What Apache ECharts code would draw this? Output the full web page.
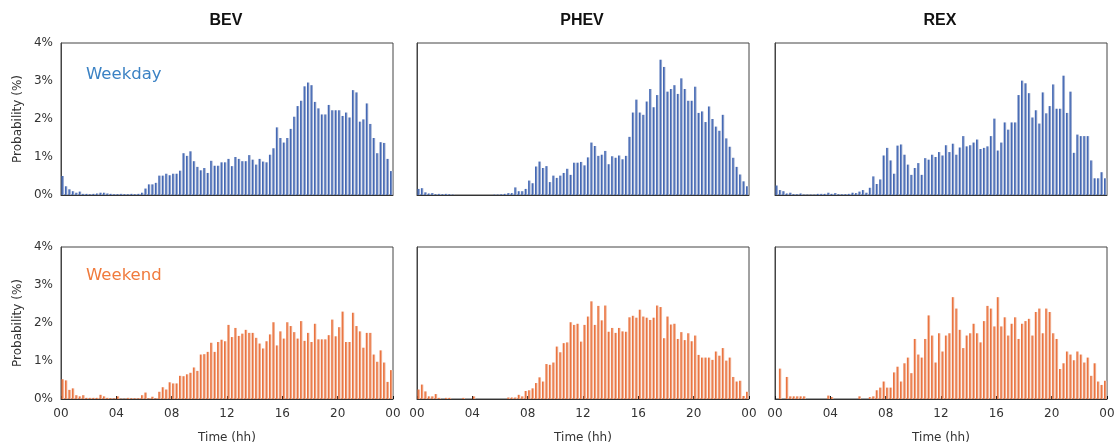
<!DOCTYPE html>
<html>
<head>
<meta charset="utf-8">
<script src="https://cdn.jsdelivr.net/npm/echarts@6/dist/echarts.min.js"></script>
<style>html,body{margin:0;padding:0;background:#fff;}#c{width:1120px;height:446px;}</style>
</head>
<body>
<div id="c"></div>
<script>
// ---- data: charging probability (%) per 15-minute slot, 00:00 → 24:00 (96 slots) ----
const vehicleTypes = ['BEV', 'PHEV', 'REX'];
const dayTypes = ['Weekday', 'Weekend'];
const hourTicks = ['00', '04', '08', '12', '16', '20', '00'];
const yTicks = ['0%', '1%', '2%', '3%', '4%'];

const bevWeekday = [0.50,0.23,0.15,0.10,0.06,0.09,0.03,0.03,0.02,0.03,0.04,0.06,0.06,0.04,0.03,0.02,0.02,0.03,0.02,0.02,0.03,0.02,0.03,0.06,
  0.17,0.28,0.28,0.32,0.51,0.51,0.56,0.52,0.56,0.56,0.64,1.10,1.03,1.15,0.89,0.74,0.65,0.71,0.58,0.90,0.77,0.77,0.86,0.86,
  0.95,0.76,1.00,0.95,0.89,0.89,1.05,0.93,0.80,0.95,0.88,0.86,1.06,1.23,1.78,1.50,1.38,1.50,1.74,2.06,2.34,2.48,2.86,2.96,
  2.89,2.45,2.28,2.12,2.12,2.37,2.23,2.23,2.23,2.08,2.17,2.04,2.76,2.70,1.93,1.99,2.41,1.87,1.50,1.10,1.39,1.37,0.95,0.63];
const phevWeekday = [0.16,0.18,0.07,0.04,0.05,0.02,0.03,0.02,0.03,0.02,0.01,0,0,0,0,0,0,0,0,0,0,0,0.01,0.01,
  0.02,0.03,0.05,0.05,0.20,0.10,0.10,0.16,0.38,0.31,0.75,0.88,0.71,0.76,0.34,0.51,0.45,0.51,0.58,0.69,0.53,0.85,0.85,0.87,
  0.78,0.99,1.38,1.29,1.03,1.06,1.16,0.81,1.02,0.98,1.04,0.94,1.03,1.53,2.17,2.51,2.17,2.11,2.46,2.79,2.31,2.63,3.56,3.37,
  2.72,2.79,2.89,2.66,3.07,2.79,2.48,2.48,2.85,2.16,2.20,1.92,2.33,2.00,1.80,1.69,2.11,1.49,1.27,0.98,0.74,0.54,0.36,0.23];
const rexWeekday = [0.25,0.13,0.10,0.04,0.06,0.02,0.02,0.04,0.01,0.01,0.01,0.01,0.03,0.03,0.03,0.06,0.03,0.05,0.02,0.02,0.02,0.03,0.06,0.05,
  0.09,0.13,0.06,0.19,0.49,0.29,0.41,1.04,1.24,0.91,0.56,1.30,1.33,1.06,0.80,0.53,0.71,0.84,0.53,0.97,0.93,1.06,1.00,1.13,
  1.04,1.31,1.13,1.35,1.06,1.25,1.55,1.28,1.31,1.38,1.46,1.21,1.24,1.28,1.55,2.01,1.17,1.38,1.91,1.72,1.91,1.91,2.63,3.01,
  2.94,2.68,2.04,2.23,1.88,2.70,2.15,2.34,2.91,2.27,2.27,3.14,2.16,2.72,1.11,1.59,1.55,1.55,1.55,0.91,0.44,0.44,0.60,0.44];
const bevWeekend = [0.52,0.49,0.24,0.28,0.10,0.07,0.10,0.03,0.03,0.03,0.03,0.11,0.07,0.03,0.02,0.02,0.07,0.01,0.01,0.03,0.02,0.02,0.02,0.10,
  0.17,0.02,0.06,0.02,0.19,0.31,0.25,0.44,0.41,0.41,0.61,0.60,0.65,0.69,0.83,0.74,1.17,1.18,1.24,1.48,1.24,1.50,1.56,1.52,
  1.95,1.63,1.87,1.66,1.72,1.82,1.74,1.74,1.61,1.46,1.33,1.52,1.70,2.02,1.41,1.78,1.59,2.02,1.92,1.76,1.59,2.05,1.53,1.74,
  1.50,1.98,1.57,1.57,1.57,1.68,2.09,1.65,1.89,2.30,1.50,1.50,2.27,1.92,1.78,1.35,1.74,1.74,1.17,0.98,1.28,0.96,0.45,0.76];
const phevWeekend = [0.25,0.38,0.20,0.07,0.07,0.13,0.03,0,0.03,0.03,0,0,0,0.03,0,0,0.07,0,0,0,0,0,0,0,
  0,0,0.04,0.04,0.04,0.11,0.07,0.21,0.23,0.28,0.42,0.57,0.46,0.92,0.90,0.96,1.38,1.23,1.47,1.49,2.02,1.95,1.98,1.51,
  1.95,2.17,2.57,1.95,2.45,2.07,2.46,1.77,1.87,1.74,1.87,1.78,1.77,2.15,2.19,2.14,2.35,2.17,2.14,2.08,2.14,2.46,2.42,1.60,
  2.17,1.96,1.98,1.58,1.76,1.55,1.73,1.52,1.67,1.16,1.09,1.09,1.09,1.03,1.25,1.14,1.34,1.01,1.09,0.58,0.46,0.48,0.08,0.19];
const rexWeekend = [0,0.80,0,0.58,0.07,0.07,0.07,0.07,0.07,0,0,0,0,0,0,0.09,0.05,0,0,0,0,0,0,0,
  0.07,0,0,0.05,0.07,0.23,0.30,0.46,0.30,0.30,0.70,0.85,0.46,0.94,1.09,0.68,1.58,1.17,1.09,1.58,2.20,1.67,0.96,1.73,
  1.25,1.67,1.73,2.68,2.38,1.82,1.34,1.67,1.73,1.98,1.73,1.49,2.05,2.45,2.38,1.91,2.68,1.91,2.15,1.67,1.98,2.15,1.58,1.98,
  2.05,2.11,1.67,2.29,2.38,1.73,2.38,2.29,1.73,1.58,0.79,0.94,1.25,1.17,1.02,1.25,1.17,0.96,1.09,0.61,0.94,0.46,0.37,0.48];

const panels = [
  [bevWeekday, phevWeekday, rexWeekday],
  [bevWeekend, phevWeekend, rexWeekend]
];
const SLOT_H = 0.25; // 15-minute slot width in hours

// ---- layout ----
const colLeft = [61, 417, 775];
const colW = 332;
const rowTop = [43, 247];
const rowH = 152;
const palette = [
  { dark: '#4468b4', light: '#c3cbdd' },
  { dark: '#ea7440', light: '#f4d0bf' }
];
const FONT = 'DejaVu Sans';

const grids = [], xAxes = [], yAxes = [], series = [];
let k = 0;
for (let r = 0; r < 2; r++) {
  for (let c = 0; c < 3; c++) {
    grids.push({ left: colLeft[c], top: rowTop[r], width: colW, height: rowH,
      show: true, borderColor: '#444', borderWidth: 1, backgroundColor: 'transparent' });
    xAxes.push({
      type: 'value', gridIndex: k, min: 0, max: 24, interval: 4,
      axisLine: { show: true, lineStyle: { color: '#333' } },
      axisTick: { show: r === 1, inside: true, length: 3, lineStyle: { color: '#111' } },
      axisLabel: { show: r === 1, color: '#333', fontFamily: FONT, fontSize: 12, margin: 9,
        formatter: v => hourTicks[Math.round(v / 4)] },
      splitLine: { show: false },
      name: r === 1 ? 'Time (hh)' : '', nameLocation: 'middle', nameGap: 33,
      nameTextStyle: { color: '#333', fontFamily: FONT, fontSize: 12 }
    });
    yAxes.push({
      type: 'value', gridIndex: k, min: 0, max: 4, interval: 1,
      axisLine: { show: true, lineStyle: { color: '#444' } },
      axisTick: { show: false },
      axisLabel: { show: c === 0, color: '#333', fontFamily: FONT, fontSize: 12, margin: 8,
        formatter: v => yTicks[Math.round(v)] },
      splitLine: { show: false },
      name: c === 0 ? 'Probability (%)' : '', nameLocation: 'middle', nameGap: 37,
      nameTextStyle: { color: '#333', fontFamily: FONT, fontSize: 12 }
    });
    const vals = panels[r][c];
    const pal = palette[r];
    series.push({
      type: 'bar', xAxisIndex: k, yAxisIndex: k,
      data: vals.map((v, i) => [i * SLOT_H + SLOT_H / 2, v]),
      barWidth: 2.6,
      silent: true,
      itemStyle: {
        color: new echarts.graphic.LinearGradient(0, 0, 1, 0, [
          { offset: 0, color: pal.dark }, { offset: 0.35, color: pal.dark }, { offset: 1, color: pal.light }
        ])
      }
    });
    k++;
  }
}

const titles = vehicleTypes.map((t, i) => ({
  text: t, left: colLeft[i] + colW / 2 - 6, top: 8, textAlign: 'center',
  textStyle: { fontFamily: 'Liberation Sans', fontWeight: 'bold', fontSize: 16, color: '#111' }
}));
titles.push({ text: dayTypes[0], left: 81, top: 61,
  textStyle: { fontFamily: FONT, fontWeight: 'normal', fontSize: 16.5, color: '#3b82c4' } });
titles.push({ text: dayTypes[1], left: 81, top: 262,
  textStyle: { fontFamily: FONT, fontWeight: 'normal', fontSize: 16.5, color: '#f07a3c' } });

const chart = echarts.init(document.getElementById('c'), null, { renderer: 'canvas' });
chart.setOption({
  backgroundColor: '#fff',
  animation: false,
  title: titles,
  grid: grids,
  xAxis: xAxes,
  yAxis: yAxes,
  series: series
});
</script>
</body>
</html>
